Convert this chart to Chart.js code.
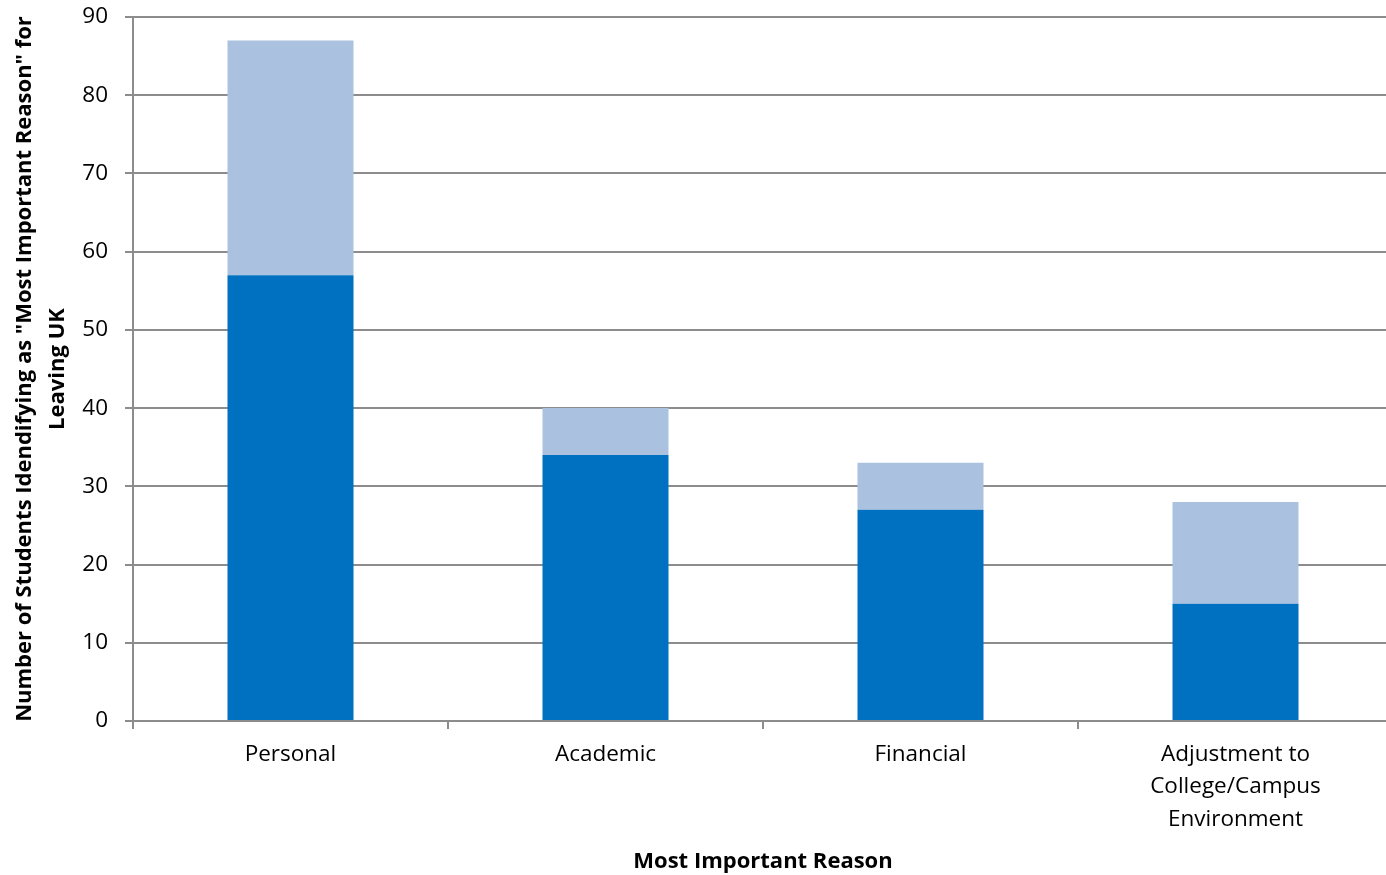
<!DOCTYPE html>
<html>
<head>
<meta charset="utf-8">
<script src="https://cdn.jsdelivr.net/npm/chart.js@4.4.0/dist/chart.umd.min.js"></script>
<style>
html,body{margin:0;padding:0;background:#fff;overflow:hidden;}
#wrap{width:1386px;height:875px;position:relative;overflow:hidden;}
</style>
</head>
<body>
<div id="wrap"><canvas id="c" width="1393" height="875"></canvas></div>
<script>
const categories = [["Personal"], ["Academic"], ["Financial"], ["Adjustment to", "College/Campus", "Environment"]];
const seriesDark = [57, 34, 27, 15];
const seriesLight = [30, 6, 6, 13];
const yTicks = [0, 10, 20, 30, 40, 50, 60, 70, 80, 90];
const yTitle = ['Number of Students Idendifying as "Most Important Reason" for', 'Leaving UK'];
const xTitle = 'Most Important Reason';

const FONT = "'Open Sans', sans-serif";
const gridColor = '#8c8c8c';

new Chart(document.getElementById('c'), {
  type: 'bar',
  data: {
    labels: categories,
    datasets: [
      { label: 'A', data: seriesDark, backgroundColor: '#0070c0', barPercentage: 0.4, categoryPercentage: 1 },
      { label: 'B', data: seriesLight, backgroundColor: '#abc1e0', barPercentage: 0.4, categoryPercentage: 1 }
    ]
  },
  options: {
    responsive: false,
    animation: false,
    events: [],
    layout: { padding: { top: 17, right: 0, left: 0, bottom: 0 } },
    plugins: { legend: { display: false }, tooltip: { enabled: false } },
    scales: {
      x: {
        stacked: true,
        offset: true,
        afterFit: s => { s.height = 154; },
        grid: { offset: true, drawOnChartArea: false, drawTicks: true, tickLength: 8, color: gridColor, lineWidth: 2 },
        border: { color: gridColor, width: 2 },
        ticks: { color: '#000', font: { family: FONT, size: 22.5, lineHeight: 1.45 }, padding: 9, maxRotation: 0, autoSkip: false },
        title: { display: true, text: xTitle, color: '#000', font: { family: FONT, size: 22, weight: 'bold' }, padding: { top: 12, bottom: 0 } }
      },
      y: {
        stacked: true,
        min: 0, max: 90,
        afterFit: s => { s.width = 133; s.paddingTop = 0; s.paddingBottom = 0; },
        afterBuildTicks: s => { s.ticks = yTicks.map(v => ({ value: v })); },
        grid: { color: gridColor, lineWidth: 2, tickLength: 8 },
        border: { color: gridColor, width: 2 },
        ticks: { color: '#000', font: { family: FONT, size: 22.5 }, padding: 17 },
        title: { display: true, text: yTitle, color: '#000', font: { family: FONT, size: 22, weight: 'bold', lineHeight: 1.5 }, padding: { top: 8, bottom: 0 } }
      }
    }
  }
});
</script>
</body>
</html>
